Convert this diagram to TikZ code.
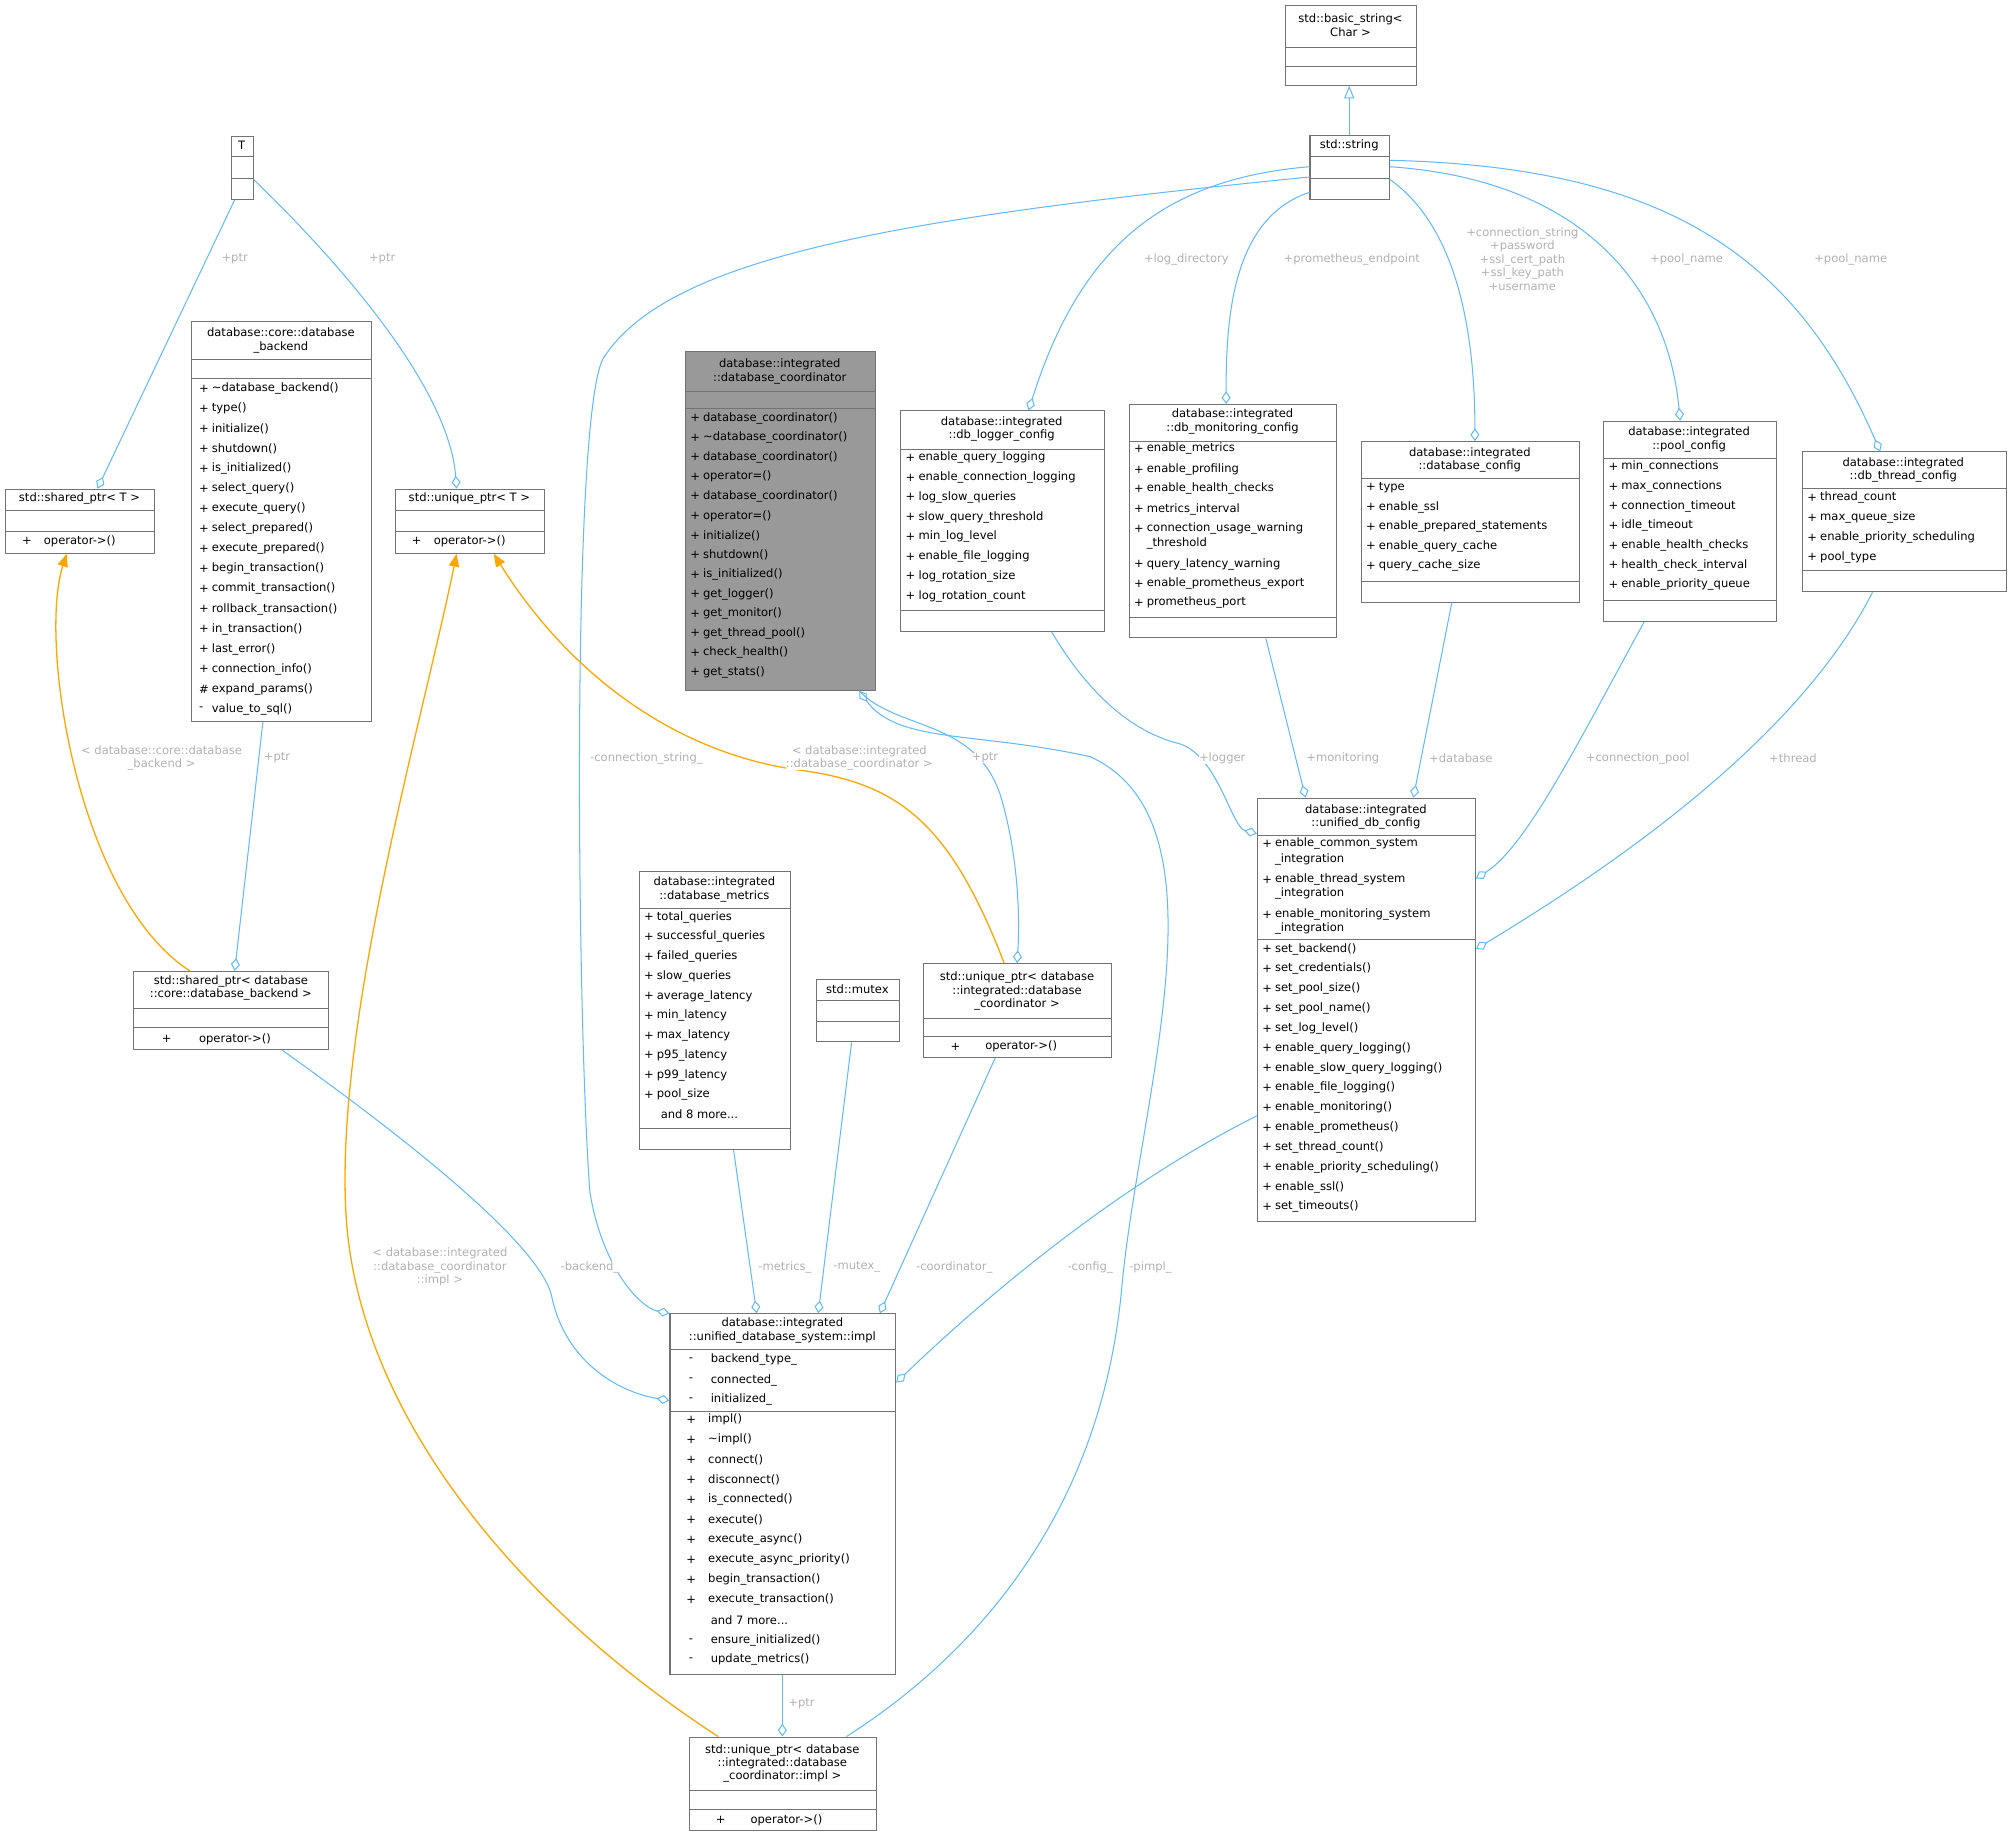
\documentclass[tikz,border=0pt]{standalone}
\usepackage{fontspec}
\setmainfont{DejaVu Sans}
\usetikzlibrary{arrows.meta}
\definecolor{eb}{HTML}{63B8FF}
\definecolor{eo}{HTML}{FFA500}
\newcommand\ubox[6][white]{\node[box,fill=#1,minimum width={(#4-#2)*1pt},minimum height={(#5-#3)*1pt}] (#6) at (#2,#3) {};}
\newcommand\usep[2]{\draw[black!55] (#1.west |- 0,#2) -- (#1.east |- 0,#2);}
\newcommand\ttl[2]{\node[tx] at (#1) {#2};}
\newcommand\ml[4]{\node[tx,anchor=west] at (#1,#2) {#3}; \node[tx,anchor=west] at (#1+10,#2) {#4};}
\newcommand\mlw[4]{\node[tx,anchor=west] at (#1,#2) {#3}; \node[tx,anchor=west] at (#1+17,#2) {#4};}
\begin{document}
\begin{tikzpicture}[x=1pt,y=-1pt,
 box/.style={draw=black!55,inner sep=0,anchor=north west,line width=0.8pt},
 tx/.style={font=\fontsize{9}{10.5}\selectfont,inner sep=0,align=center},
 el/.style={font=\fontsize{9}{10.5}\selectfont,inner sep=0,align=center,text=black!30},
 ag/.style={draw=eb,line width=0.8pt,-{Diamond[open,length=10pt,width=7pt]}},
 inh/.style={draw=eb,line width=0.8pt,-{Triangle[open,length=10pt,width=8pt]}},
 tm/.style={draw=eo,line width=1pt,-{Triangle[length=10pt,width=8pt]}}]
\useasboundingbox (0,0) rectangle (1568,1432);
% boxes
\ubox{1002}{4}{1104}{66}{bstr}
\ttl{1053,19.5}{std::basic\_string<\\Char >}\usep{bstr}{37}\usep{bstr}{52}
\ubox{1021}{105}{1083}{155}{str}
\ttl{1052,113}{std::string}\usep{str}{122}\usep{str}{139}
\ubox{180}{106}{197}{155}{T}
\ttl{188.5,113}{T}\usep{T}{122}\usep{T}{139}
\ubox[black!40]{534}{274}{682}{538}{coord}
\ttl{608,289.5}{database::integrated\\::database\_coordinator}\usep{coord}{305}\usep{coord}{318}
\foreach \t [count=\i from 0] in {database\_coordinator(),\textasciitilde database\_coordinator(),database\_coordinator(),operator=(),database\_coordinator(),operator=(),initialize(),shutdown(),is\_initialized(),get\_logger(),get\_monitor(),get\_thread\_pool(),check\_health(),get\_stats()}{\ml{538}{326+15.25*\i}{+}{\t}}
\ubox{702}{320}{861}{492}{logc}
\ttl{781,334.5}{database::integrated\\::db\_logger\_config}\usep{logc}{350}\usep{logc}{476}
\foreach \t [count=\i from 0] in {enable\_query\_logging,enable\_connection\_logging,log\_slow\_queries,slow\_query\_threshold,min\_log\_level,enable\_file\_logging,log\_rotation\_size,log\_rotation\_count}{\ml{706}{357+15.4*\i}{+}{\t}}
\ubox{880}{315}{1042}{497}{monc}
\ttl{961,328.5}{database::integrated\\::db\_monitoring\_config}\usep{monc}{344}\usep{monc}{481}
\ml{884}{350}{+}{enable\_metrics}\ml{884}{366}{+}{enable\_profiling}\ml{884}{381}{+}{enable\_health\_checks}\ml{884}{397}{+}{metrics\_interval}
\ml{884}{412}{+}{connection\_usage\_warning}\node[tx,anchor=west] at (894,424) {\_threshold};
\ml{884}{440}{+}{query\_latency\_warning}\ml{884}{455}{+}{enable\_prometheus\_export}\ml{884}{470}{+}{prometheus\_port}
\ubox{1061}{344}{1231}{469}{dbc}
\ttl{1146,358.5}{database::integrated\\::database\_config}\usep{dbc}{373}\usep{dbc}{453}
\foreach \t [count=\i from 0] in {type,enable\_ssl,enable\_prepared\_statements,enable\_query\_cache,query\_cache\_size}{\ml{1065}{380+15.3*\i}{+}{\t}}
\ubox{1250}{328}{1385}{484}{poolc}
\ttl{1317,342.5}{database::integrated\\::pool\_config}\usep{poolc}{357}\usep{poolc}{468}
\foreach \t [count=\i from 0] in {min\_connections,max\_connections,connection\_timeout,idle\_timeout,enable\_health\_checks,health\_check\_interval,enable\_priority\_queue}{\ml{1254}{364+15.35*\i}{+}{\t}}
\ubox{1405}{352}{1564}{461}{thrc}
\ttl{1484,366.5}{database::integrated\\::db\_thread\_config}\usep{thrc}{381}\usep{thrc}{445}
\foreach \t [count=\i from 0] in {thread\_count,max\_queue\_size,enable\_priority\_scheduling,pool\_type}{\ml{1409}{388+15.5*\i}{+}{\t}}
\ubox{149}{250}{289}{562}{back}
\ttl{219,265.5}{database::core::database\\\_backend}\usep{back}{280}\usep{back}{295}
\foreach \s/\t [count=\i from 0] in {+/\textasciitilde database\_backend(),+/type(),+/initialize(),+/shutdown(),+/is\_initialized(),+/select\_query(),+/execute\_query(),+/select\_prepared(),+/execute\_prepared(),+/begin\_transaction(),+/commit\_transaction(),+/rollback\_transaction(),+/in\_transaction(),+/last\_error(),+/connection\_info(),\#/expand\_params(),-/value\_to\_sql()}{\ml{155}{303+15.62*\i}{\s}{\t}}
\ubox{4}{381}{120}{431}{spT}
\ttl{62,389}{std::shared\_ptr< T >}\usep{spT}{398}\usep{spT}{414}\mlw{17}{422}{+}{operator->()}
\ubox{308}{381}{424}{431}{upT}
\ttl{366,389}{std::unique\_ptr< T >}\usep{upT}{398}\usep{upT}{414}\mlw{321}{422}{+}{operator->()}
\ubox{104}{757}{256}{818}{spB}
\ttl{180,770.5}{std::shared\_ptr< database\\::core::database\_backend >}\usep{spB}{786}\usep{spB}{801}\node[tx,anchor=west] at (126,810) {+}; \node[tx,anchor=west] at (155,810) {operator->()};
\ubox{498}{679}{616}{896}{metr}
\ttl{557,693.5}{database::integrated\\::database\_metrics}\usep{metr}{708}\usep{metr}{880}
\foreach \t [count=\i from 0] in {total\_queries,successful\_queries,failed\_queries,slow\_queries,average\_latency,min\_latency,max\_latency,p95\_latency,p99\_latency,pool\_size}{\ml{502}{715+15.4*\i}{+}{\t}}
\node[tx,anchor=west] at (515,869) {and 8 more...};
\ubox{636}{763}{701}{812}{mtx}
\ttl{668.5,771}{std::mutex}\usep{mtx}{780}\usep{mtx}{796}
\ubox{720}{751}{866}{824}{upC}
\ttl{793,773}{std::unique\_ptr< database\\::integrated::database\\\_coordinator >}\usep{upC}{794}\usep{upC}{808}\node[tx,anchor=west] at (741,816) {+}; \node[tx,anchor=west] at (768,816) {operator->()};
\ubox{980}{622}{1150}{952}{uni}
\ttl{1065,637}{database::integrated\\::unified\_db\_config}\usep{uni}{651}\usep{uni}{732}
\ml{984}{658}{+}{enable\_common\_system}\node[tx,anchor=west] at (994,670) {\_integration};
\ml{984}{686}{+}{enable\_thread\_system}\node[tx,anchor=west] at (994,697) {\_integration};
\ml{984}{713}{+}{enable\_monitoring\_system}\node[tx,anchor=west] at (994,724) {\_integration};
\foreach \t [count=\i from 0] in {set\_backend(),set\_credentials(),set\_pool\_size(),set\_pool\_name(),set\_log\_level(),enable\_query\_logging(),enable\_slow\_query\_logging(),enable\_file\_logging(),enable\_monitoring(),enable\_prometheus(),set\_thread\_count(),enable\_priority\_scheduling(),enable\_ssl(),set\_timeouts()}{\ml{984}{740+15.46*\i}{+}{\t}}
\ubox{522}{1024}{698}{1305}{impl}
\ttl{610,1037.5}{database::integrated\\::unified\_database\_system::impl}\usep{impl}{1052}\usep{impl}{1100}
\mlw{537}{1060}{-}{backend\_type\_}\mlw{537}{1076}{-}{connected\_}\mlw{537}{1091}{-}{initialized\_}
\foreach \t [count=\i from 0] in {impl(),\textasciitilde impl(),connect(),disconnect(),is\_connected(),execute(),execute\_async(),execute\_async\_priority(),begin\_transaction(),execute\_transaction()}{\mlw{535}{1107+15.6*\i}{+}{\t}}
\node[tx,anchor=west] at (554,1263) {and 7 more...};
\mlw{537}{1279}{-}{ensure\_initialized()}\mlw{537}{1294}{-}{update\_metrics()}
\ubox{537}{1354}{683}{1427}{upI}
\ttl{610,1375}{std::unique\_ptr< database\\::integrated::database\\\_coordinator::impl >}\usep{upI}{1396}\usep{upI}{1411}\node[tx,anchor=west] at (558,1419) {+}; \node[tx,anchor=west] at (585,1419) {operator->()};
% edges
\draw[inh] (1052,0 |- str.north) -- (1052,0 |- bstr.south);
\draw[ag] (183,0 |- T.south) -- (76,0 |- spT.north); \node[el] at (183,202) {+ptr};
\draw[ag] (T.east |- 0,140) .. controls (260,200) and (350,300) .. (356,0 |- upT.north); \node[el] at (298,202) {+ptr};
\draw[ag] (str.west |- 0,138) .. controls (700,170) and (520,200) .. (470,280) .. controls (445,330) and (450,800) .. (460,930) .. controls (470,990) and (500,1020) .. (522,0 |- impl.north);
\node[el,fill=white] at (504,591) {-connection\_string\_};
\draw[ag] (str.west |- 0,130) .. controls (900,140) and (840,200) .. (802,0 |- logc.north); \node[el,fill=white] at (925,202) {+log\_directory};
\draw[ag] (str.west |- 0,150) .. controls (960,170) and (956,250) .. (956,0 |- monc.north); \node[el,fill=white] at (1054,202) {+prometheus\_endpoint};
\draw[ag] (str.east |- 0,140) .. controls (1140,180) and (1150,270) .. (1150,0 |- dbc.north); \node[el,fill=white] at (1187,202) {+connection\_string\\+password\\+ssl\_cert\_path\\+ssl\_key\_path\\+username};
\draw[ag] (str.east |- 0,130) .. controls (1230,140) and (1300,220) .. (1310,0 |- poolc.north); \node[el,fill=white] at (1315,202) {+pool\_name};
\draw[ag] (str.east |- 0,125) .. controls (1300,130) and (1400,200) .. (1466,0 |- thrc.north); \node[el,fill=white] at (1443,202) {+pool\_name};
\draw[ag] (205,0 |- back.south) -- (183,0 |- spB.north); \node[el,fill=white] at (216,591) {+ptr};
\draw[tm] (148,0 |- spB.north) .. controls (60,700) and (30,500) .. (52,0 |- spT.south); \node[el,fill=white] at (126,591) {< database::core::database\\\_backend >};
\draw[tm] (783,0 |- upC.north) .. controls (740,640) and (700,610) .. (620,600) .. controls (520,585) and (440,520) .. (385,0 |- upT.south); \node[el,fill=white] at (670,591) {< database::integrated\\::database\_coordinator >};
\draw[tm] (560,0 |- upI.north) .. controls (400,1250) and (280,1100) .. (270,950) .. controls (260,800) and (330,560) .. (356,0 |- upT.south); \node[el,fill=white] at (343,988) {< database::integrated\\::database\_coordinator\\::impl >};
\draw[ag] (670,0 |- coord.south) .. controls (700,570) and (760,560) .. (780,620) .. controls (795,670) and (795,720) .. (793,0 |- upC.north); \node[el,fill=white] at (768,591) {+ptr};
\draw[ag] (660,0 |- upI.north) .. controls (760,1290) and (860,1180) .. (875,1000) .. controls (890,850) and (960,640) .. (850,590) .. controls (760,570) and (700,580) .. (670,0 |- coord.south); \node[el,fill=white] at (897,988) {-pimpl\_};
\draw[ag] (820,0 |- logc.south) .. controls (860,560) and (900,575) .. (920,580) .. controls (950,590) and (960,645) .. (uni.west |- 0,650); \node[el,fill=white] at (953,591) {+logger};
\draw[ag] (987,0 |- monc.south) -- (1018,0 |- uni.north); \node[el,fill=white] at (1047,591) {+monitoring};
\draw[ag] (1132,0 |- dbc.south) -- (1102,0 |- uni.north); \node[el,fill=white] at (1139,591) {+database};
\draw[ag] (1282,0 |- poolc.south) .. controls (1230,580) and (1190,660) .. (uni.east |- 0,685); \node[el,fill=white] at (1277,591) {+connection\_pool};
\draw[ag] (1460,0 |- thrc.south) .. controls (1400,580) and (1250,680) .. (uni.east |- 0,740); \node[el,fill=white] at (1398,591) {+thread};
\draw[ag] (uni.west |- 0,870) .. controls (880,920) and (780,1000) .. (impl.east |- 0,1078); \node[el,fill=white] at (850,988) {-config\_};
\draw[ag] (220,0 |- spB.south) .. controls (320,890) and (420,970) .. (430,1010) .. controls (440,1060) and (480,1085) .. (impl.west |- 0,1092); \node[el,fill=white] at (460,988) {-backend\_};
\draw[ag] (572,0 |- metr.south) -- (590,0 |- impl.north); \node[el,fill=white] at (612,988) {-metrics\_};
\draw[ag] (664,0 |- mtx.south) -- (638,0 |- impl.north); \node[el,fill=white] at (668,988) {-mutex\_};
\draw[ag] (776,0 |- upC.south) -- (686,0 |- impl.north); \node[el,fill=white] at (744,988) {-coordinator\_};
\draw[ag] (610,0 |- impl.south) -- (610,0 |- upI.north); \node[el,fill=white] at (625,1328) {+ptr};
\end{tikzpicture}
\end{document}
